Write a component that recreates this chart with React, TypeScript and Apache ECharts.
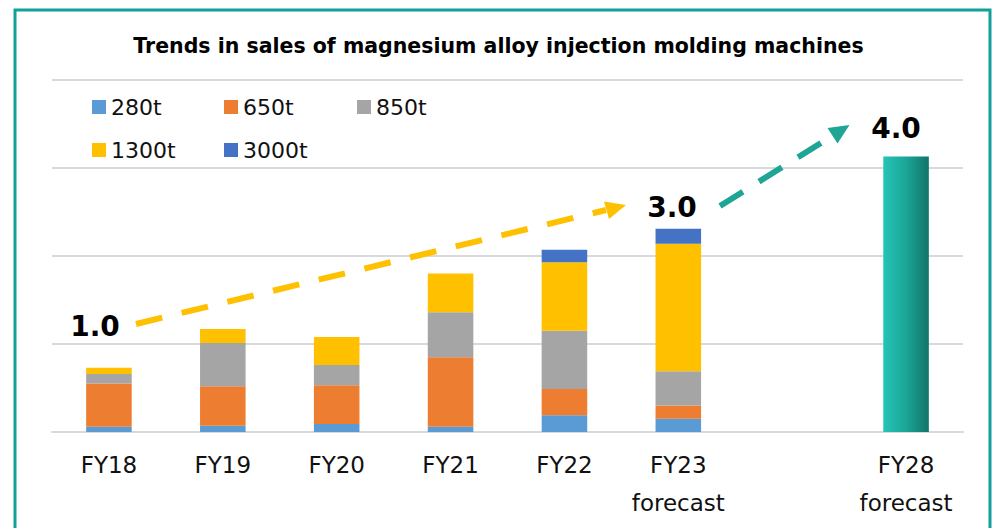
import React, { useEffect, useRef } from "react";
import * as echarts from "echarts";

const categories = ["FY18", "FY19", "FY20", "FY21", "FY22", "FY23\nforecast", "", "FY28\nforecast"];
const s280 = [0.06, 0.07, 0.09, 0.06, 0.19, 0.15, null, null];
const s650 = [0.49, 0.45, 0.44, 0.79, 0.3, 0.15, null, null];
const s850 = [0.11, 0.49, 0.23, 0.51, 0.66, 0.39, null, null];
const s1300 = [0.07, 0.16, 0.32, 0.44, 0.78, 1.45, null, null];
const s3000 = [null, null, null, null, 0.14, 0.17, null, null];
const fy28 = [null, null, null, null, null, null, null, 3.13];
const indexLabels = ["1.0", "3.0", "4.0"];
const seriesNames = ["280t", "650t", "850t", "1300t", "3000t"];
const seriesColors = ["#5B9BD5", "#ED7D31", "#A5A5A5", "#FFC000", "#4472C4"];

export default function App() {
  const ref = useRef<HTMLDivElement>(null);
  useEffect(() => {
    const chart = echarts.init(ref.current!, null, { renderer: "svg" });
    const datas = [s280, s650, s850, s1300, s3000];
    const legendPos = [
      [92, 96],
      [224, 96],
      [357, 96],
      [92, 139],
      [224, 139],
    ];
    const font = "DejaVu Sans";
    const option: any = {
      animation: false,
      backgroundColor: "#ffffff",
      title: {
        text: "Trends in sales of magnesium alloy injection molding machines",
        left: "center",
        top: 35,
        padding: 0,
        textStyle: { fontFamily: font, fontWeight: "bold", fontSize: 20.5, color: "#000" },
      },
      legend: seriesNames.map((n, i) => ({
        data: [n],
        left: legendPos[i][0],
        top: legendPos[i][1],
        padding: 0,
        itemWidth: 14,
        itemHeight: 14,
        icon: "rect",
        itemGap: 0,
        textStyle: { fontFamily: font, fontSize: 22, color: "#111", lineHeight: 22 },
      })),
      grid: { left: 52, right: 34, top: 80, bottom: 96 },
      xAxis: {
        type: "category",
        data: categories,
        axisTick: { show: false },
        axisLine: { show: true, lineStyle: { color: "#d9d9d9", width: 2 } },
        axisLabel: {
          interval: 0,
          margin: 14,
          fontFamily: font,
          fontSize: 23,
          lineHeight: 38,
          color: "#111",
        },
      },
      yAxis: {
        type: "value",
        min: 0,
        max: 4,
        interval: 1,
        axisLabel: { show: false },
        axisLine: { show: false },
        axisTick: { show: false },
        splitLine: { lineStyle: { color: "#d9d9d9", width: 2 } },
      },
      series: [
        ...seriesNames.map((n, i) => ({
          name: n,
          type: "bar",
          stack: "total",
          barWidth: "40%",
          data: datas[i],
          itemStyle: { color: seriesColors[i] },
        })),
        {
          name: "FY28",
          type: "bar",
          stack: "total",
          barWidth: "40%",
          data: fy28,
          itemStyle: {
            color: new echarts.graphic.LinearGradient(0, 0, 1, 0, [
              { offset: 0, color: "#25c4b6" },
              { offset: 0.5, color: "#1ba697" },
              { offset: 1, color: "#117468" },
            ]),
          },
        },
      ],
      graphic: [
        {
          type: "rect",
          shape: { x: 15, y: 10, width: 975, height: 560 },
          style: { fill: "none", stroke: "#11a09a", lineWidth: 3 },
          z: 100,
        },
        {
          type: "line",
          shape: { x1: 136, y1: 324, x2: 606, y2: 210 },
          style: { stroke: "#FFC000", lineWidth: 6, lineDash: [27, 20] },
          z: 100,
        },
        {
          type: "polygon",
          shape: { points: [[604, 201.5], [626, 205], [609, 219]] },
          style: { fill: "#FFC000" },
          z: 100,
        },
        {
          type: "line",
          shape: { x1: 720, y1: 206, x2: 832, y2: 136 },
          style: { stroke: "#1fa596", lineWidth: 6, lineDash: [27, 19] },
          z: 100,
        },
        {
          type: "polygon",
          shape: { points: [[827.5, 128], [849.5, 125], [837.5, 143.5]] },
          style: { fill: "#1fa596" },
          z: 100,
        },
        {
          type: "text",
          x: 95,
          y: 326,
          style: {
            text: indexLabels[0],
            fontFamily: font,
            fontWeight: "bold",
            fontSize: 28,
            fill: "#000",
            align: "center",
            verticalAlign: "middle",
          },
          z: 100,
        },
        {
          type: "text",
          x: 672,
          y: 207,
          style: {
            text: indexLabels[1],
            fontFamily: font,
            fontWeight: "bold",
            fontSize: 28,
            fill: "#000",
            align: "center",
            verticalAlign: "middle",
          },
          z: 100,
        },
        {
          type: "text",
          x: 896,
          y: 128,
          style: {
            text: indexLabels[2],
            fontFamily: font,
            fontWeight: "bold",
            fontSize: 28,
            fill: "#000",
            align: "center",
            verticalAlign: "middle",
          },
          z: 100,
        },
      ],
    };
    chart.setOption(option);
    return () => chart.dispose();
  }, []);
  return (
    <div
      ref={ref}
      style={{ position: "absolute", left: 0, top: 0, width: 997, height: 528 }}
    />
  );
}
